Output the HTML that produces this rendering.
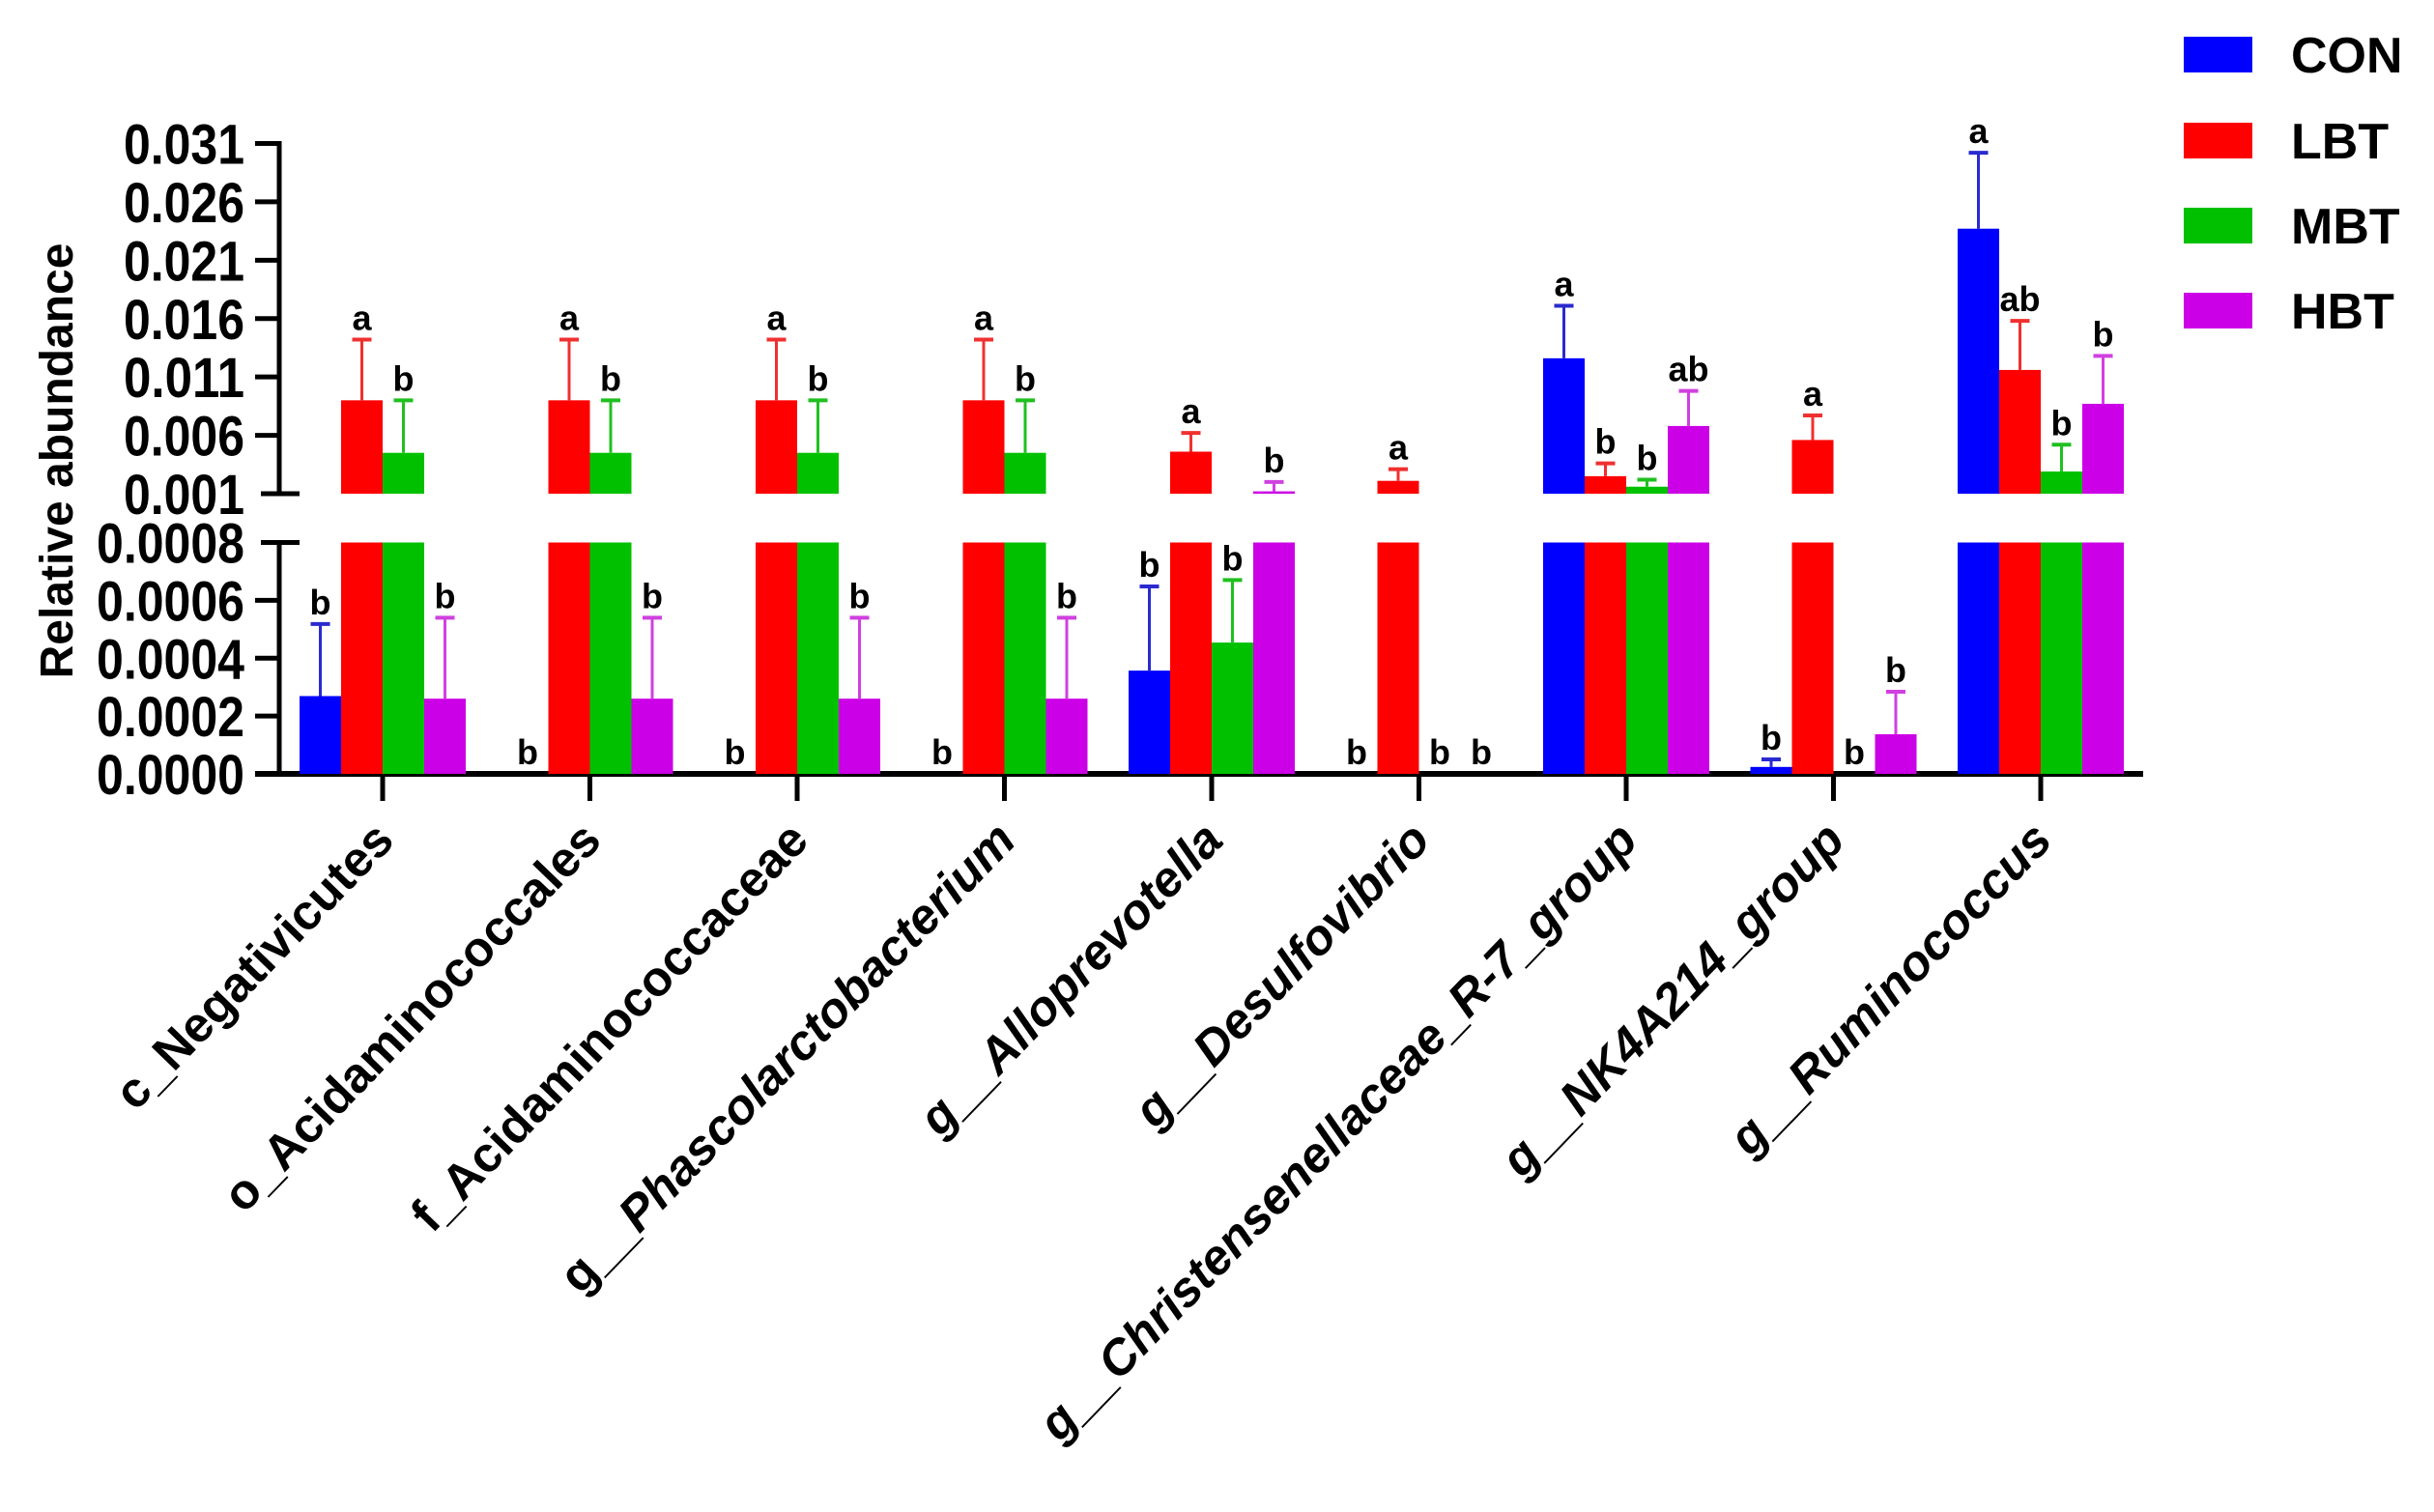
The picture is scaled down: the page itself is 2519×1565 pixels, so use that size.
<!DOCTYPE html>
<html><head><meta charset="utf-8"><style>
html,body{margin:0;padding:0;background:#fff;}
svg{display:block;font-family:"Liberation Sans",Arial,sans-serif;font-weight:bold;}
</style></head><body>
<svg id="chart" width="2519" height="1565" viewBox="0 0 2519 1565" xmlns="http://www.w3.org/2000/svg">
<g id="axes"></g>
<g id="bars"></g>
<g id="xlabels"></g>
<text transform="translate(75,477) rotate(-90)" text-anchor="middle" font-size="48">Relative abundance</text>
<g id="legend"></g>
</svg>
<script>
const categories = ["c_Negativicutes","o_Acidaminococcales","f_Acidaminococcaceae","g__Phascolarctobacterium","g__Alloprevotella","g__Desulfovibrio","g__Christensenellaceae_R-7_group","g__NK4A214_group","g__Ruminococcus"];
const seriesNames = ["CON","LBT","MBT","HBT"];
const conValues = [0.000269,0,0,0,0.000357,0,0.0126,0.000024,0.0237];
const lbtValues = [0.009,0.009,0.009,0.009,0.0046,0.0021,0.0025,0.0056,0.0116];
const mbtValues = [0.0045,0.0045,0.0045,0.0045,0.000454,0,0.0016,0,0.0029];
const hbtValues = [0.00026,0.00026,0.00026,0.00026,0.0012,0,0.0068,0.000137,0.0087];
const conErr = [0.000518,0,0,0,0.000648,0,0.0171,0.00005,0.0302];
const lbtErr = [0.0142,0.0142,0.0142,0.0142,0.0062,0.0031,0.0036,0.0077,0.0158];
const mbtErr = [0.009,0.009,0.009,0.009,0.00067,0,0.0022,0,0.0052];
const hbtErr = [0.00054,0.00054,0.00054,0.00054,0.0020,0,0.0098,0.000284,0.0128];
const conLetters = ["b","b","b","b","b","b","a","b","a"];
const lbtLetters = ["a","a","a","a","a","a","b","a","ab"];
const mbtLetters = ["b","b","b","b","b","b","b","b","b"];
const hbtLetters = ["b","b","b","b","b","b","ab","b","b"];
const upperTicks = ["0.031","0.026","0.021","0.016","0.011","0.006","0.001"];
const lowerTicks = ["0.0000","0.0002","0.0004","0.0006","0.0008"];

const NS="http://www.w3.org/2000/svg";
function mk(tag,attrs,parent){const e=document.createElementNS(NS,tag);for(const k in attrs)e.setAttribute(k,attrs[k]);parent.appendChild(e);return e;}
const colors=["#0000ff","#ff0000","#00c000","#cc00e6"];
const errColors=["#2a2ad0","#f03030","#20c020","#d040e0"];
const U0=0.001,U1=0.031,UY0=511,UY1=148.5;
const L1=0.0008,LY0=801,LY1=561.5;
function yU(v){return UY0-(v-U0)/(U1-U0)*(UY0-UY1);}
function yL(v){return LY0-v/L1*(LY0-LY1);}
const X0=396,STEP=214.5,BW=43;
function xC(i){return X0+STEP*i;}

const axes=document.getElementById('axes');
let a;
a=mk('line',{x1:289,y1:146,x2:289,y2:511,stroke:'#000','stroke-width':5},axes);

a=mk('line',{x1:289,y1:561,x2:289,y2:804,stroke:'#000','stroke-width':5},axes);

a=mk('line',{x1:264,y1:801,x2:2218,y2:801,stroke:'#000','stroke-width':6},axes);

a=mk('line',{x1:270,y1:511,x2:310,y2:511,stroke:'#000','stroke-width':5},axes);

a=mk('line',{x1:270,y1:561.5,x2:310,y2:561.5,stroke:'#000','stroke-width':5},axes);

upperTicks.forEach(t=>{const v=parseFloat(t),y=yU(v);
 if(v>U0){const l=mk('line',{x1:264,y1:y,x2:289,y2:y,stroke:'#000','stroke-width':5},axes);
 }
 const tx=mk('text',{x:253,y:y+21,'text-anchor':'end','font-size':58,textLength:125,lengthAdjust:'spacingAndGlyphs'},axes);tx.textContent=t;
 });
lowerTicks.forEach(t=>{const v=parseFloat(t),y=yL(v);
 if(v<L1){const l=mk('line',{x1:264,y1:y,x2:289,y2:y,stroke:'#000','stroke-width':5},axes);
 }
 const tx=mk('text',{x:253,y:y+21,'text-anchor':'end','font-size':58,textLength:153,lengthAdjust:'spacingAndGlyphs'},axes);tx.textContent=t;
 });
categories.forEach((c,i)=>{const l=mk('line',{x1:xC(i),y1:801,x2:xC(i),y2:829,stroke:'#000','stroke-width':5},axes);
 });

const bars=document.getElementById('bars');
const vals=[conValues,lbtValues,mbtValues,hbtValues];
const errs=[conErr,lbtErr,mbtErr,hbtErr];
const lets=[conLetters,lbtLetters,mbtLetters,hbtLetters];
categories.forEach((c,i)=>{
 for(let s=0;s<4;s++){
  const v=vals[s][i],e=errs[s][i],x=xC(i)-2*BW+s*BW,cx=x+BW/2;
  if(v>0){
   const lt=yL(Math.min(v,L1));
   const r=mk('rect',{x:x,y:lt,width:BW,height:LY0-lt,fill:colors[s]},bars);
   
  }
  if(v>U0){
   const ut=yU(Math.min(v,U1));
   const r=mk('rect',{x:x,y:ut,width:BW,height:UY0-ut,fill:colors[s]},bars);
   
  }
  let top;
  const up=v>U0;
  const f=up?yU:yL;
  if(v>0&&e>v){
   const y0=f(v),y1=f(e);
   const l=mk('line',{x1:cx,y1:y0,x2:cx,y2:y1,stroke:errColors[s],'stroke-width':3},bars);
   
   const cp=mk('line',{x1:cx-10,y1:y1,x2:cx+10,y2:y1,stroke:errColors[s],'stroke-width':4},bars);
   
   top=y1;
  } else if(v>0){top=f(v);} else {top=LY0;}
  const t=mk('text',{x:cx,y:top-10,'text-anchor':'middle','font-size':36},bars);
  t.textContent=lets[s][i];
  
 }
});

const xl=document.getElementById('xlabels');
categories.forEach((c,i)=>{
 const t=mk('text',{transform:'translate('+(xC(i)+14)+',872) rotate(-46)','text-anchor':'end','font-size':51},xl);
 
 if(c.startsWith('g__')){
  const p=mk('tspan',{},t);p.textContent='g__';
  const n=mk('tspan',{'font-style':'italic'},t);n.textContent=c.slice(3);
  if(i>=4)t.setAttribute('font-style','italic');
 } else t.textContent=c;
});

const lg=document.getElementById('legend');
const lgY=[38,127,215,303];
seriesNames.forEach((n,s)=>{
 const r=mk('rect',{x:2260,y:lgY[s],width:71,height:37,fill:colors[s]},lg);
 
 const t=mk('text',{x:2371,y:lgY[s]+37,'font-size':52},lg);t.textContent=n;
 
});
</script>
</body></html>
